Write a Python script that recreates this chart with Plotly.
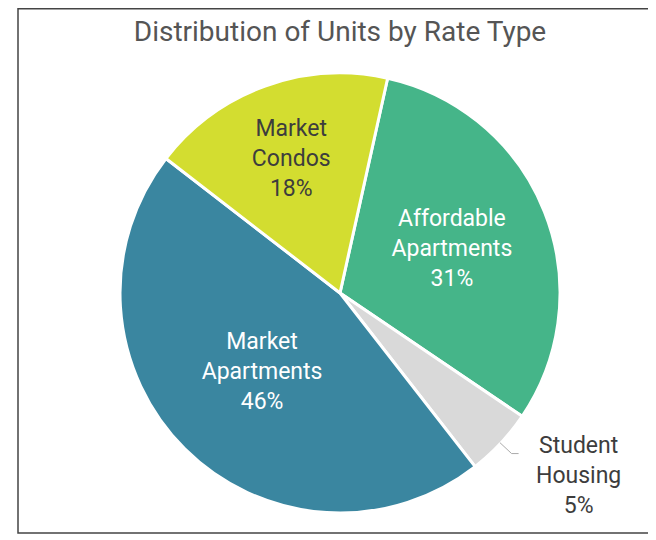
import math
import plotly.graph_objects as go

labels = ["Affordable<br>Apartments", "Student<br>Housing", "Market<br>Apartments", "Market<br>Condos"]
values = [31, 5, 46, 18]
colors = ["#45b589", "#d9d9d9", "#3a86a0", "#d3dd30"]
text_colors = ["#ffffff", "#3d3d3d", "#ffffff", "#3d3d3d"]
positions = ["inside", "none", "inside", "inside"]
title_text = "Distribution of Units by Rate Type"

ROTATION = 12.5
OFF = 8  # default page body margin of the html page
W, H = 656 - OFF, 540 - OFF
ml, mr, mt, mb = 16, 0, 65, 27
pw = W - ml - mr
ph = H - mt - mb
cx, cy = ml + pw / 2, mt + ph / 2
R = min(pw, ph) / 2 - 2


def px_x(p):
    return (p - ml) / pw


def px_y(p):
    return (H - mb - p) / ph


fig = go.Figure(go.Pie(
    labels=labels,
    values=values,
    sort=False,
    direction="clockwise",
    rotation=ROTATION,
    marker=dict(colors=colors, line=dict(color="#ffffff", width=3)),
    texttemplate="%{label}<br>%{percent:.0%}",
    textposition=positions,
    insidetextorientation="horizontal",
    textfont=dict(family="Roboto", size=23, color=text_colors),
    automargin=False,
    showlegend=False,
    hoverinfo="skip",
))

# outside label with leader line for the small slice
idx = 1
total = sum(values)
mid = math.radians(ROTATION + 360 * (sum(values[:idx]) + values[idx] / 2) / total)
dx, dy = math.sin(mid), -math.cos(mid)
x0, y0 = cx + (R + 1) * dx, cy + (R + 1) * dy
x1, y1 = cx + (R + 17) * dx, cy + (R + 17) * dy
x2 = x1 + 7
fig.add_shape(type="path", xref="paper", yref="paper",
              path=f"M {px_x(x0)} {px_y(y0)} L {px_x(x1)} {px_y(y1)} L {px_x(x2)} {px_y(y1)}",
              line=dict(color="#aaaaaa", width=1))
fig.add_annotation(xref="paper", yref="paper",
                   x=px_x(570), y=px_y(467), xanchor="center", yanchor="middle",
                   text=f"{labels[idx]}<br>{values[idx]}%", showarrow=False,
                   font=dict(family="Roboto", size=23, color="#3d3d3d"))

# outer frame
fig.add_shape(type="rect", xref="paper", yref="paper",
              x0=px_x(10), x1=px_x(644), y0=px_y(525), y1=px_y(0.75),
              line=dict(color="#444444", width=1.5), layer="below")

fig.update_layout(
    width=W, height=H,
    autosize=False,
    margin=dict(l=ml, r=mr, t=mt, b=mb, autoexpand=False),
    paper_bgcolor="#ffffff",
    plot_bgcolor="#ffffff",
    font=dict(family="Roboto", color="#3d3d3d"),
    title=dict(text=title_text,
               font=dict(family="Roboto", size=28, color="#555555"),
               x=(340 - OFF) / W, xanchor="center", xref="container",
               y=1 - (31 - OFF) / H, yanchor="middle", yref="container"),
)

fig.write_html("out.html")
